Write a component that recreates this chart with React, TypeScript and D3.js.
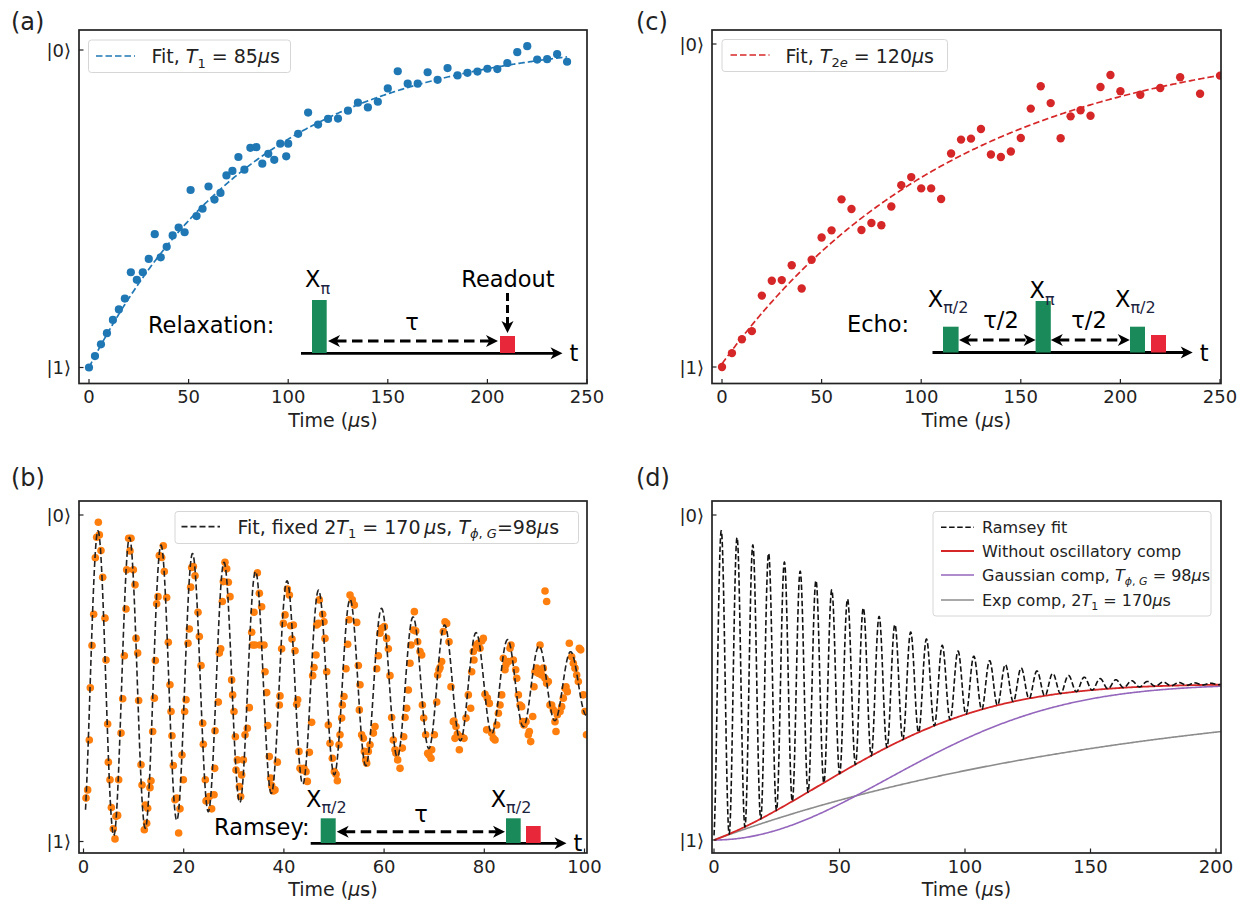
import React from 'react';
import * as d3 from 'd3';

// ---------------- data ----------------
const relaxTime = [0,3,6,9,12,15,18,21,24,27,30,33,36,39,42,45,48,51,54,57,60,63,66,69,72,75,78,81,84,87,90,93,96,99,100,105,110,115,120,125,130,135,140,145,150,155,160,165,170,175,180,185,190,195,200,205,210,215,220,225,230,235,240];
const relaxValue = [0.000,0.036,0.073,0.108,0.150,0.183,0.217,0.300,0.276,0.300,0.342,0.420,0.347,0.380,0.416,0.441,0.426,0.559,0.477,0.500,0.570,0.529,0.550,0.605,0.619,0.663,0.623,0.692,0.694,0.642,0.673,0.654,0.705,0.665,0.705,0.736,0.803,0.765,0.783,0.784,0.809,0.834,0.819,0.837,0.879,0.933,0.894,0.894,0.930,0.906,0.943,0.920,0.928,0.932,0.941,0.940,0.959,0.993,1.012,0.970,0.971,0.987,0.963];

const echoTime = [0,5,10,15,20,25,30,35,40,45,50,55,60,65,70,75,80,85,90,95,100,105,110,115,120,125,130,135,140,145,150,155,160,165,170,175,180,185,190,195,200,210,220,230,240,250];
const echoValue = [0.000,0.043,0.086,0.111,0.221,0.267,0.269,0.315,0.243,0.332,0.401,0.423,0.519,0.489,0.424,0.446,0.439,0.497,0.563,0.588,0.553,0.553,0.520,0.661,0.704,0.707,0.737,0.658,0.650,0.667,0.709,0.800,0.869,0.817,0.708,0.776,0.795,0.778,0.867,0.904,0.854,0.843,0.864,0.897,0.846,0.902];

const ramseyTime = [
0.50,0.83,1.16,1.36,1.70,2.03,2.36,2.63,2.96,3.16,3.49,3.83,4.29,4.49,4.82,4.96,5.29,5.56,5.95,6.29,6.49,6.82,7.02,7.49,7.82,8.15,8.48,8.62,9.01,9.28,9.48,9.95,10.28,10.48,10.81,11.01,11.48,11.68,12.14,12.34,12.61,12.81,13.27,13.47,13.81,14.14,14.34,14.60,14.87,15.13,15.60,15.93,16.13,16.60,16.93,17.26,17.47,17.66,17.93,18.26,18.59,18.99,19.26,19.66,19.93,20.19,20.46,20.86,21.12,21.39,21.59,21.93,22.26,22.86,23.12,23.46,23.79,23.92,24.32,24.46,
24.72,25.12,25.58,26.05,26.18,26.25,26.91,27.11,27.38,27.71,27.91,28.24,28.58,28.91,29.24,29.57,29.77,30.04,30.31,30.44,30.71,31.11,31.37,31.57,31.91,32.24,32.70,33.10,33.57,33.77,34.03,34.23,34.70,35.10,35.23,35.56,36.03,36.23,36.56,36.76,37.09,37.36,37.56,37.89,38.22,38.69,39.09,39.22,39.55,39.89,40.22,40.69,41.09,41.35,41.62,41.89,42.22,42.55,42.75,43.01,43.21,43.55,44.01,44.41,44.68,45.08,45.54,45.74,46.01,46.41,46.54,46.87,47.07,47.74,48.00,48.20,48.54,48.87,49.20,
49.67,50.07,50.40,50.67,51.00,51.20,51.53,51.66,51.99,52.39,52.73,53.00,53.20,53.66,54.06,54.53,54.86,55.06,55.19,55.52,55.86,56.06,56.32,56.52,56.85,57.19,57.86,58.19,58.52,58.85,59.18,59.51,60.05,60.51,60.85,61.18,61.51,61.84,62.18,62.38,62.71,63.18,63.64,63.91,64.18,64.51,64.84,65.17,65.37,65.84,66.04,66.30,66.70,67.17,67.50,67.64,67.90,68.30,68.70,68.96,69.36,69.50,70.03,70.50,70.69,70.96,71.16,71.49,71.83,72.16,72.49,72.96,73.35,73.82,74.15,
73.95,74.35,74.62,75.02,75.48,75.95,76.35,76.81,77.28,77.48,77.81,77.94,78.34,78.81,79.14,79.48,79.81,80.14,80.47,80.61,81.01,81.47,81.80,82.14,82.47,82.81,83.14,83.47,83.80,84.13,84.33,84.80,85.13,85.33,85.80,86.27,86.47,86.80,87.13,87.46,87.66,87.93,88.33,88.79,88.99,89.26,89.66,89.92,90.12,90.45,90.79,91.12,91.45,91.78,92.12,92.12,92.45,92.45,92.78,93.11,93.45,93.78,94.11,94.31,94.58,95.12,95.44,95.77,96.11,96.31,96.57,96.97,97.44,97.77,98.10,98.44,98.77,98.97,99.24,99.77,100.10,100.40
];
const ramseyValue = [
0.133,0.158,0.311,0.471,0.600,0.696,0.869,0.932,0.978,0.939,0.891,0.809,0.684,0.556,0.360,0.243,0.189,0.104,0.039,0.008,0.077,0.080,0.189,0.332,0.437,0.569,0.712,0.832,0.929,0.890,0.929,0.832,0.786,0.622,0.577,0.432,0.235,0.173,0.036,0.112,0.056,0.102,0.165,0.186,0.337,0.439,0.554,0.728,0.750,0.876,0.870,0.906,0.827,0.747,0.610,0.480,0.398,0.324,0.233,0.128,0.133,0.026,0.100,0.265,0.189,0.398,0.434,0.607,0.651,0.779,0.839,0.842,0.814,0.702,0.628,0.539,0.362,0.298,0.189,0.124,
0.128,0.138,0.100,0.143,0.224,0.339,0.427,0.577,0.590,0.735,0.796,0.855,0.835,0.794,0.750,0.495,0.449,0.398,0.321,0.219,0.250,0.168,0.138,0.204,0.250,0.327,0.347,0.410,0.641,0.602,0.702,0.602,0.823,0.760,0.602,0.719,0.602,0.520,0.456,0.355,0.260,0.194,0.171,0.155,0.158,0.243,0.418,0.446,0.590,0.668,0.694,0.773,0.755,0.661,0.620,0.663,0.584,0.420,0.434,0.276,0.224,0.219,0.224,0.214,0.184,0.273,0.365,0.508,0.533,0.571,0.663,0.668,0.740,0.696,0.673,0.622,0.520,0.357,0.301,
0.255,0.214,0.206,0.186,0.296,0.327,0.378,0.418,0.444,0.529,0.604,0.679,0.755,0.740,0.724,0.671,0.539,0.403,0.480,0.327,0.316,0.276,0.250,0.240,0.276,0.296,0.332,0.352,0.529,0.569,0.638,0.653,0.658,0.622,0.590,0.508,0.380,0.311,0.281,0.270,0.250,0.224,0.286,0.321,0.380,0.408,0.464,0.546,0.602,0.648,0.704,0.645,0.612,0.582,0.571,0.418,0.378,0.327,0.270,0.265,0.255,0.281,0.327,0.427,0.510,0.526,0.533,0.551,0.643,0.673,0.668,0.612,0.474,0.367,0.316,
0.369,0.352,0.329,0.281,0.321,0.316,0.378,0.449,0.408,0.520,0.582,0.556,0.602,0.607,0.592,0.614,0.622,0.451,0.342,0.439,0.423,0.332,0.316,0.311,0.357,0.393,0.418,0.449,0.561,0.526,0.541,0.551,0.592,0.602,0.556,0.526,0.500,0.449,0.418,0.413,0.367,0.357,0.367,0.327,0.337,0.306,0.383,0.474,0.520,0.531,0.515,0.602,0.510,0.531,0.500,0.767,0.485,0.735,0.490,0.418,0.418,0.403,0.367,0.337,0.388,0.398,0.413,0.439,0.469,0.474,0.459,0.607,0.566,0.546,0.531,0.510,0.490,0.592,0.587,0.449,0.398,0.327
];

const ticksAC = [0, 50, 100, 150, 200, 250];
const ticksB = [0, 20, 40, 60, 80, 100];
const ticksD = [0, 50, 100, 150, 200];
const stateTicks = [{ v: 1, label: '|0⟩' }, { v: 0, label: '|1⟩' }];

// fit parameters (from legends)
const T1 = 85, T2e = 120, T1x2 = 170, TphiG = 98;
const relaxAmp = 1.04;
const echoAmp = 1.02, echoOff = 0.01;
const ramseyMid = 0.48, ramseyPeriod = 6.29, ramseyPeak = 2.9;

// ---------------- layout ----------------
const FONT = "'DejaVu Sans', sans-serif";
const INK = '#222';
const BLUE = '#1f77b4', ORANGE = '#ff7f0e', RED = '#d62728', PURPLE = '#9467bd', GRAY = '#8c8c8c';
const GREEN_BAR = '#1b8a5a', RED_BAR = '#e8283a';

const boxA = { left: 79, right: 587, top: 30, bottom: 383.5 };
const boxB = { left: 79, right: 587, top: 501, bottom: 853 };
const boxC = { left: 712, right: 1221, top: 30, bottom: 383.5 };
const boxD = { left: 712, right: 1221, top: 501, bottom: 853 };

const xA = d3.scaleLinear().domain([0, 250]).range([89, 587]);
const yA = d3.scaleLinear().domain([0, 1]).range([367.5, 50]);
const xB = d3.scaleLinear().domain([0, 100]).range([83.5, 584.5]);
const yB = d3.scaleLinear().domain([0, 1]).range([841.5, 515]);
const xC = d3.scaleLinear().domain([0, 250]).range([722, 1220]);
const yC = d3.scaleLinear().domain([0, 1]).range([367, 44]);
const xD = d3.scaleLinear().domain([0, 200]).range([714, 1216]);
const yD = d3.scaleLinear().domain([0, 1]).range([840, 515]);

const relaxFit = (t: number) => relaxAmp * (1 - Math.exp(-t / T1));
const echoFit = (t: number) => echoOff + echoAmp * (1 - Math.exp(-t / T2e));
const envExp = (t: number) => Math.exp(-t / T1x2);
const envGauss = (t: number) => Math.exp(-((t / TphiG) ** 2));
const ramseyFit = (t: number) =>
  ramseyMid + ramseyMid * envExp(t) * envGauss(t) * Math.cos((2 * Math.PI * (t - ramseyPeak)) / ramseyPeriod);
const noOsc = (t: number) => ramseyMid - ramseyMid * envExp(t) * envGauss(t);
const gaussComp = (t: number) => ramseyMid - ramseyMid * envGauss(t);
const expComp = (t: number) => ramseyMid - ramseyMid * envExp(t);

function curve(f: (t: number) => number, t0: number, t1: number, step: number, x: any, y: any) {
  const ts = d3.range(t0, t1 + step / 2, step);
  return d3.line<number>().x((t) => x(t)).y((t) => y(f(t)))(ts) || '';
}

type Box = { left: number; right: number; top: number; bottom: number };

function Frame({ box, x, y, ticks, id }: { box: Box; x: any; y: any; ticks: number[]; id: string }) {
  const cx = (box.left + box.right) / 2;
  return (
    <g fontFamily={FONT} fill={INK}>
      {ticks.map((t) => (
        <g key={id + 'x' + t}>
          <line x1={x(t)} x2={x(t)} y1={box.bottom} y2={box.bottom - 4.5} stroke={INK} strokeWidth={1.2} />
          <text x={x(t)} y={box.bottom + 19.5} textAnchor="middle" fontSize={18}>{t}</text>
        </g>
      ))}
      {stateTicks.map((s) => (
        <g key={id + 'y' + s.v}>
          <line x1={box.left} x2={box.left + 4.5} y1={y(s.v)} y2={y(s.v)} stroke={INK} strokeWidth={1.2} />
          <text x={box.left - 8} y={y(s.v) + 6.5} textAnchor="end" fontSize={18}>{s.label}</text>
        </g>
      ))}
      <rect x={box.left} y={box.top} width={box.right - box.left} height={box.bottom - box.top} fill="none" stroke={INK} strokeWidth={1.7} />
      <text x={cx} y={box.bottom + 43} textAnchor="middle" fontSize={19}>
        {'Time ('}<tspan fontStyle="italic">μ</tspan>{'s)'}
      </text>
    </g>
  );
}

function headPath(x: number, y: number, dir: 'left' | 'right' | 'down', len = 12, half = 6) {
  const notch = len * 0.72;
  if (dir === 'right') return `M${x},${y}L${x - len},${y - half}L${x - notch},${y}L${x - len},${y + half}Z`;
  if (dir === 'left') return `M${x},${y}L${x + len},${y - half}L${x + notch},${y}L${x + len},${y + half}Z`;
  return `M${x},${y}L${x - half},${y - len}L${x},${y - notch}L${x + half},${y - len}Z`;
}

function TimeAxis({ x1, x2, y }: { x1: number; x2: number; y: number }) {
  return (
    <g>
      <line x1={x1} x2={x2 - 8} y1={y} y2={y} stroke="#000" strokeWidth={2.8} />
      <path d={headPath(x2, y, 'right')} fill="#000" />
      <text x={x2 + 7} y={y + 8} fontSize={22.5} fill="#000" fontFamily={FONT}>t</text>
    </g>
  );
}

function DashArrow({ x1, x2, y }: { x1: number; x2: number; y: number }) {
  return (
    <g>
      <line x1={x1 + 8} x2={x2 - 8} y1={y} y2={y} stroke="#000" strokeWidth={3} strokeDasharray="10.5,5.5" />
      <path d={headPath(x1, y, 'left')} fill="#000" />
      <path d={headPath(x2, y, 'right')} fill="#000" />
    </g>
  );
}

function XLabel({ x, y, sub }: { x: number; y: number; sub: string }) {
  return (
    <text x={x} y={y} fontSize={22.5} fill="#000" fontFamily={FONT}>
      X<tspan fontSize={16} dy={6.5} fill="#1c2440">{sub}</tspan>
    </text>
  );
}

function Bar({ x1, x2, top, bottom, color }: { x1: number; x2: number; top: number; bottom: number; color: string }) {
  return <rect x={x1} y={top} width={x2 - x1} height={bottom - top} fill={color} />;
}

function Sub({ children, size = 13, dy = 4.5 }: any) {
  return <tspan fontSize={size} dy={dy}>{children}</tspan>;
}

export default function App() {
  const dots = (ts: number[], vs: number[], x: any, y: any, color: string, r: number) =>
    ts.map((t, i) => <circle key={i} cx={x(t)} cy={y(vs[i])} r={r} fill={color} />);

  return (
    <svg width={1246} height={904} style={{ position: 'absolute', left: 0, top: 0, background: '#fff' }} fontFamily={FONT}>
      <defs>
        {[['cA', boxA], ['cB', boxB], ['cC', boxC], ['cD', boxD]].map(([id, b]: any) => (
          <clipPath id={id} key={id}>
            <rect x={b.left} y={b.top} width={b.right - b.left} height={b.bottom - b.top} />
          </clipPath>
        ))}
      </defs>
      <rect x={0} y={0} width={1246} height={904} fill="#fff" />

      {/* panel labels */}
      <g fontSize={24} fill={INK}>
        <text x={11} y={30}>(a)</text>
        <text x={11} y={486}>(b)</text>
        <text x={636} y={30}>(c)</text>
        <text x={636} y={486}>(d)</text>
      </g>

      {/* ---------- (a) ---------- */}
      <g clipPath="url(#cA)">
        {dots(relaxTime, relaxValue, xA, yA, BLUE, 4.1)}
        <path d={curve(relaxFit, 0, 240, 0.5, xA, yA)} fill="none" stroke={BLUE} strokeWidth={1.7} strokeDasharray="6.5,3" />
      </g>
      <Frame box={boxA} x={xA} y={yA} ticks={ticksAC} id="a" />
      <g>
        <rect x={88.5} y={40} width={202} height={32.5} rx={3} fill="#fff" fillOpacity={0.8} stroke="#d6d6d6" />
        <line x1={96} x2={135} y1={56} y2={56} stroke={BLUE} strokeWidth={1.7} strokeDasharray="6.5,3" />
        <text x={151.5} y={63} fontSize={19} fill={INK}>
          {'Fit, '}<tspan fontStyle="italic">T</tspan><Sub>1</Sub><tspan dy={-4.5}>{' = 85'}</tspan><tspan fontStyle="italic">μ</tspan>s
        </text>
      </g>
      <g fontFamily={FONT}>
        <text x={148} y={333} fontSize={22.5} fill="#000">Relaxation:</text>
        <TimeAxis x1={301} x2={562.5} y={353.3} />
        <Bar x1={312} x2={326.7} top={300} bottom={353} color={GREEN_BAR} />
        <Bar x1={500} x2={515} top={336} bottom={353} color={RED_BAR} />
        <DashArrow x1={328} x2={498} y={341} />
        <text x={412} y={330} fontSize={22.5} textAnchor="middle" fill="#000">τ</text>
        <XLabel x={305} y={287} sub="π" />
        <text x={508} y={286.5} fontSize={22.5} textAnchor="middle" fill="#000">Readout</text>
        <line x1={507.5} x2={507.5} y1={293} y2={325} stroke="#000" strokeWidth={3} strokeDasharray="8,4" />
        <path d={headPath(507.5, 333, 'down')} fill="#000" />
      </g>

      {/* ---------- (b) ---------- */}
      <g clipPath="url(#cB)">
        {dots(ramseyTime, ramseyValue, xB, yB, ORANGE, 3.8)}
        <path d={curve(ramseyFit, 0.4, 100.5, 0.04, xB, yB)} fill="none" stroke="#222" strokeWidth={1.6} strokeDasharray="6,3" />
      </g>
      <Frame box={boxB} x={xB} y={yB} ticks={ticksB} id="b" />
      <g>
        <rect x={175} y={511.5} width={403.5} height={32} rx={3} fill="#fff" fillOpacity={0.8} stroke="#d6d6d6" />
        <line x1={181.5} x2={220} y1={526.7} y2={526.7} stroke="#222" strokeWidth={1.7} strokeDasharray="6,3" />
        <text x={237.5} y={533.5} fontSize={19} fill={INK}>
          {'Fit, fixed 2'}<tspan fontStyle="italic">T</tspan><Sub>1</Sub><tspan dy={-4.5}>{' = 170\u2009'}</tspan><tspan fontStyle="italic">μ</tspan>{'s, '}
          <tspan fontStyle="italic">T</tspan><Sub><tspan fontStyle="italic">ϕ</tspan>{', '}<tspan fontStyle="italic">G</tspan></Sub><tspan dy={-4.5}>=98</tspan><tspan fontStyle="italic">μ</tspan>s
        </text>
      </g>
      <g fontFamily={FONT}>
        <text x={214} y={835} fontSize={22.5} fill="#000">Ramsey:</text>
        <TimeAxis x1={310.7} x2={566.5} y={843.3} />
        <Bar x1={320.7} x2={335.7} top={818.3} bottom={843} color={GREEN_BAR} />
        <Bar x1={506} x2={520.7} top={818.3} bottom={843} color={GREEN_BAR} />
        <Bar x1={526} x2={540.7} top={826} bottom={843} color={RED_BAR} />
        <DashArrow x1={336.7} x2={505} y={831.7} />
        <text x={421} y={821.7} fontSize={22.5} textAnchor="middle" fill="#000">τ</text>
        <XLabel x={306} y={806.7} sub="π/2" />
        <XLabel x={490.7} y={806.7} sub="π/2" />
      </g>

      {/* ---------- (c) ---------- */}
      <g clipPath="url(#cC)">
        {dots(echoTime, echoValue, xC, yC, RED, 4.2)}
        <path d={curve(echoFit, 0, 250, 0.5, xC, yC)} fill="none" stroke={RED} strokeWidth={1.7} strokeDasharray="6.5,3" />
      </g>
      <Frame box={boxC} x={xC} y={yC} ticks={ticksAC} id="c" />
      <g>
        <rect x={722} y={39.5} width={225.5} height={32} rx={3} fill="#fff" fillOpacity={0.8} stroke="#d6d6d6" />
        <line x1={730.5} x2={769.5} y1={55} y2={55} stroke={RED} strokeWidth={1.7} strokeDasharray="6.5,3" />
        <text x={785.5} y={62.5} fontSize={19} fill={INK}>
          {'Fit, '}<tspan fontStyle="italic">T</tspan><Sub>2<tspan fontStyle="italic">e</tspan></Sub><tspan dy={-4.5}>{' = 120'}</tspan><tspan fontStyle="italic">μ</tspan>s
        </text>
      </g>
      <g fontFamily={FONT}>
        <text x={847} y={331.7} fontSize={22.5} fill="#000">Echo:</text>
        <TimeAxis x1={932.5} x2={1192.7} y={352.5} />
        <Bar x1={943} x2={958.6} top={326.7} bottom={352.5} color={GREEN_BAR} />
        <Bar x1={1035.6} x2={1050.8} top={301} bottom={352.5} color={GREEN_BAR} />
        <Bar x1={1130} x2={1145} top={326.7} bottom={352.5} color={GREEN_BAR} />
        <Bar x1={1151} x2={1166} top={335} bottom={352.5} color={RED_BAR} />
        <DashArrow x1={959} x2={1035.6} y={340} />
        <DashArrow x1={1050.8} x2={1129.8} y={340} />
        <text x={1001} y={328} fontSize={22.5} textAnchor="middle" fill="#000">τ/2</text>
        <text x={1089} y={328} fontSize={22.5} textAnchor="middle" fill="#000">τ/2</text>
        <XLabel x={927.8} y={306.7} sub="π/2" />
        <XLabel x={1029.5} y={298} sub="π" />
        <XLabel x={1115} y={306.7} sub="π/2" />
      </g>

      {/* ---------- (d) ---------- */}
      <g clipPath="url(#cD)" fill="none">
        <path d={curve(expComp, 0, 202, 0.5, xD, yD)} stroke={GRAY} strokeWidth={1.6} />
        <path d={curve(gaussComp, 0, 202, 0.5, xD, yD)} stroke={PURPLE} strokeWidth={1.6} />
        <path d={curve(noOsc, 0, 202, 0.5, xD, yD)} stroke={RED} strokeWidth={1.8} />
        <path d={curve(ramseyFit, 0, 202, 0.04, xD, yD)} stroke="#111" strokeWidth={1.6} strokeDasharray="5.5,2.6" />
      </g>
      <Frame box={boxD} x={xD} y={yD} ticks={ticksD} id="d" />
      <g fontSize={16} fill={INK}>
        <rect x={933} y={511.5} width={278} height={104.5} rx={3} fill="#fff" fillOpacity={0.8} stroke="#d6d6d6" />
        <line x1={941} x2={974} y1={527.3} y2={527.3} stroke="#111" strokeWidth={1.6} strokeDasharray="5.5,2.6" />
        <line x1={941} x2={974} y1={551} y2={551} stroke={RED} strokeWidth={1.8} />
        <line x1={941} x2={974} y1={575} y2={575} stroke={PURPLE} strokeWidth={1.6} />
        <line x1={941} x2={974} y1={600} y2={600} stroke={GRAY} strokeWidth={1.6} />
        <text x={982} y={533}>Ramsey fit</text>
        <text x={982} y={556.7}>Without oscillatory comp</text>
        <text x={982} y={580.7}>
          {'Gaussian comp, '}<tspan fontStyle="italic">T</tspan><Sub size={11} dy={4}><tspan fontStyle="italic">ϕ</tspan>{', '}<tspan fontStyle="italic">G</tspan></Sub><tspan dy={-4}>{' = 98'}</tspan><tspan fontStyle="italic">μ</tspan>s
        </text>
        <text x={982} y={605.7}>
          {'Exp comp, 2'}<tspan fontStyle="italic">T</tspan><Sub size={11} dy={4}>1</Sub><tspan dy={-4}>{' = 170'}</tspan><tspan fontStyle="italic">μ</tspan>s
        </text>
      </g>
    </svg>
  );
}
